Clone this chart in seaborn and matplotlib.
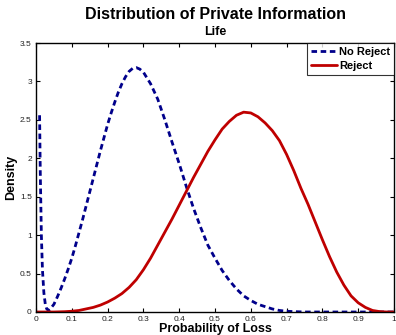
import matplotlib
matplotlib.use("Agg")
import matplotlib.pyplot as plt
import seaborn as sns
import pandas as pd

# ---- data ----
no_reject_x = [0.010, 0.012, 0.015, 0.018, 0.022, 0.026, 0.030, 0.035, 0.040, 0.050,
               0.060, 0.070, 0.080, 0.090, 0.100, 0.110, 0.120, 0.130, 0.140, 0.150,
               0.160, 0.170, 0.180, 0.190, 0.200, 0.210, 0.220, 0.230, 0.240, 0.250,
               0.260, 0.270, 0.280, 0.290, 0.300, 0.320, 0.340, 0.360, 0.380, 0.400,
               0.420, 0.440, 0.460, 0.480, 0.500, 0.520, 0.540, 0.560, 0.580, 0.600,
               0.620, 0.640, 0.660, 0.680, 0.700, 0.720, 0.750, 0.850, 1.000]
no_reject_y = [2.56, 1.80, 1.00, 0.55, 0.25, 0.10, 0.04, 0.02, 0.04, 0.10,
               0.20, 0.31, 0.43, 0.56, 0.70, 0.86, 1.03, 1.20, 1.38, 1.56,
               1.74, 1.92, 2.10, 2.27, 2.44, 2.59, 2.73, 2.86, 2.97, 3.06,
               3.13, 3.17, 3.18, 3.16, 3.12, 2.97, 2.77, 2.50, 2.21, 1.93,
               1.63, 1.35, 1.10, 0.87, 0.70, 0.54, 0.41, 0.30, 0.21, 0.15,
               0.10, 0.07, 0.04, 0.02, 0.01, 0.005, 0.0, 0.0, 0.0]

reject_x = [0.000, 0.050, 0.080, 0.100, 0.120, 0.140, 0.160, 0.180, 0.200, 0.220,
            0.240, 0.260, 0.280, 0.300, 0.320, 0.340, 0.360, 0.380, 0.400, 0.420,
            0.440, 0.460, 0.480, 0.500, 0.520, 0.540, 0.560, 0.580, 0.600, 0.620,
            0.640, 0.660, 0.680, 0.700, 0.720, 0.740, 0.760, 0.780, 0.800, 0.820,
            0.840, 0.860, 0.880, 0.900, 0.920, 0.940, 0.960, 0.980, 1.000]
reject_y = [0.0, 0.0, 0.004, 0.01, 0.02, 0.04, 0.06, 0.09, 0.13, 0.18,
            0.24, 0.32, 0.42, 0.55, 0.70, 0.87, 1.04, 1.21, 1.39, 1.57,
            1.75, 1.92, 2.09, 2.24, 2.38, 2.48, 2.56, 2.60, 2.59, 2.54,
            2.46, 2.36, 2.23, 2.05, 1.84, 1.61, 1.40, 1.17, 0.94, 0.72,
            0.52, 0.35, 0.21, 0.12, 0.06, 0.02, 0.005, 0.0, 0.0]

series_names = ["No Reject", "Reject"]
x_ticks = [0, 0.1, 0.2, 0.3, 0.4, 0.5, 0.6, 0.7, 0.8, 0.9, 1]
x_tick_labels = ["0", "0.1", "0.2", "0.3", "0.4", "0.5", "0.6", "0.7", "0.8", "0.9", "1"]
y_ticks = [0, 0.5, 1, 1.5, 2, 2.5, 3, 3.5]
y_tick_labels = ["0", "0.5", "1", "1.5", "2", "2.5", "3", "3.5"]

df_nr = pd.DataFrame({"x": no_reject_x, "y": no_reject_y, "series": series_names[0]})
df_r = pd.DataFrame({"x": reject_x, "y": reject_y, "series": series_names[1]})

sns.set_style("ticks")
plt.rcParams["font.family"] = ["Liberation Sans", "DejaVu Sans"]
plt.rcParams["text.color"] = "black"
plt.rcParams["axes.labelcolor"] = "black"

fig = plt.figure(figsize=(3.96, 3.35), dpi=100)
ax = fig.add_axes([36 / 396, 1 - 312 / 335, (394 - 36) / 396, (312 - 43) / 335])

sns.lineplot(data=df_nr, x="x", y="y", ax=ax, color="#00008B", linewidth=2.0,
             sort=False, label=series_names[0])
sns.lineplot(data=df_r, x="x", y="y", ax=ax, color="#BF0000", linewidth=2.0,
             sort=False, label=series_names[1])
ax.lines[0].set_dashes((2.0, 1.3))

ax.set_xlim(0, 1)
ax.set_ylim(0, 3.5)
ax.set_xticks(x_ticks)
ax.set_xticklabels(x_tick_labels)
ax.set_yticks(y_ticks)
ax.set_yticklabels(y_tick_labels)
ax.tick_params(direction="in", length=3, width=0.8, labelsize=6, colors="black",
               labelcolor="#222222", top=True, right=True, pad=3)
for s in ax.spines.values():
    s.set_visible(True)
    s.set_linewidth(1.0)
    s.set_color("black")

ax.set_xlabel("Probability of Loss", fontsize=9, fontweight="bold", labelpad=0)
ax.set_ylabel("Density", fontsize=9, fontweight="bold")
ax.yaxis.set_label_coords(-0.052, 0.5)
ax.set_title("Life", fontsize=9, fontweight="bold", pad=6)
fig.text(0.545, 0.957, "Distribution of Private Information", ha="center", va="center",
         fontsize=11.5, fontweight="bold", color="black")

leg = ax.legend(loc="upper right", frameon=True, fancybox=False,
                borderaxespad=0.0, handlelength=2.3, handletextpad=0.2,
                borderpad=0.35, labelspacing=0.35, prop={"weight": "bold", "size": 8})
leg.get_frame().set_edgecolor("black")
leg.get_frame().set_linewidth(0.8)

fig.savefig("out.png", dpi=100)
